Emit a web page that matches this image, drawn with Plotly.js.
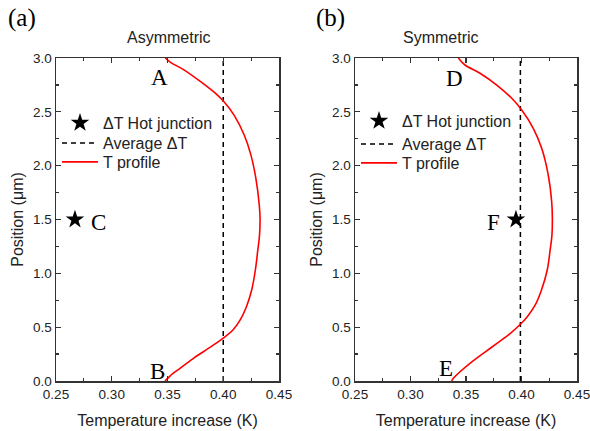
<!DOCTYPE html>
<html>
<head>
<meta charset="utf-8">
<script src="https://cdn.plot.ly/plotly-3.0.1.min.js"></script>
<style>html,body{margin:0;padding:0;background:#fff;}#chart{width:590px;height:431px;}</style>
</head>
<body>
<div id="chart"></div>
<script>
// Asymmetric (a) temperature profile
const posA  = [3.0, 2.96, 2.89, 2.78, 2.656, 2.594, 2.47, 2.285, 2.10, 1.88, 1.635, 1.51, 1.35, 1.217, 1.031, 0.845, 0.69, 0.567, 0.474, 0.406, 0.319, 0.211, 0.118, 0.046, 0.0];
const tempA = [0.348, 0.3527, 0.3647, 0.3797, 0.3948, 0.4007, 0.4097, 0.4188, 0.4248, 0.4293, 0.4323, 0.433, 0.4325, 0.431, 0.4288, 0.4255, 0.4208, 0.4152, 0.4087, 0.4010, 0.3890, 0.3733, 0.3612, 0.3522, 0.3478];
// Symmetric (b) temperature profile
const posB  = [3.0, 2.935, 2.858, 2.749, 2.626, 2.517, 2.347, 2.161, 1.913, 1.665, 1.51, 1.35, 1.217, 1.031, 0.845, 0.706, 0.597, 0.529, 0.443, 0.350, 0.257, 0.164, 0.086, 0.025, 0.0];
const tempB = [0.3431, 0.3491, 0.3626, 0.3777, 0.3912, 0.4002, 0.4106, 0.4182, 0.4241, 0.4272, 0.4278, 0.4274, 0.4258, 0.4232, 0.4180, 0.4124, 0.4052, 0.3992, 0.3900, 0.3779, 0.3656, 0.3536, 0.3446, 0.3386, 0.3371];
// Average ΔT
const avgA = 0.400;
const avgB = 0.399;
const avgPos = [0, 3];
// Hot junction points
const hotA = {t: 0.267, p: 1.5};
const hotB = {t: 0.395, p: 1.5};
// Point labels
const labelsA = [{t: 'A', x: 0.343, y: 2.82}, {t: 'B', x: 0.341, y: 0.085}, {t: 'C', x: 0.288, y: 1.47}];
const labelsB = [{t: 'D', x: 0.340, y: 2.81}, {t: 'E', x: 0.332, y: 0.12}, {t: 'F', x: 0.375, y: 1.47}];
const seriesNames = ['ΔT Hot junction', 'Average ΔT', 'T profile'];
const xTicks = [0.25, 0.30, 0.35, 0.40, 0.45];
const yTicks = [0.0, 0.5, 1.0, 1.5, 2.0, 2.5, 3.0];

const traces = [];
function addSet(xa, ya, legs, hot, avg, temps, pos) {
  traces.push({x: [hot.t], y: [hot.p], xaxis: xa, yaxis: ya, type: 'scatter', mode: 'markers',
    marker: {symbol: 'star', size: 14, color: '#000'}, name: seriesNames[0], legend: legs[0]});
  traces.push({x: [avg, avg], y: avgPos, xaxis: xa, yaxis: ya, type: 'scatter', mode: 'lines',
    line: {color: '#000', width: 1.5, dash: '5px,4px'}, name: seriesNames[1], legend: legs[1]});
  traces.push({x: temps, y: pos, xaxis: xa, yaxis: ya, type: 'scatter', mode: 'lines',
    line: {color: '#ff0000', width: 1.6, shape: 'spline', smoothing: 1}, name: seriesNames[2], legend: legs[2]});
}
addSet('x', 'y', ['legend', 'legend2', 'legend3'], hotA, avgA, tempA, posA);
addSet('x2', 'y2', ['legend4', 'legend5', 'legend6'], hotB, avgB, tempB, posB);

const fam = 'Liberation Sans, Arial, sans-serif';
const font = {family: fam, size: 13.5, color: '#222'};
function xax(domain, anchor) {
  return {domain: domain, anchor: anchor, range: [0.25, 0.45], tickvals: xTicks, tickformat: '.2f',
    ticks: 'inside', ticklen: 5, tickwidth: 1.2, tickcolor: '#333', showline: true, linecolor: '#333', linewidth: 1.5,
    mirror: 'allticks', showgrid: false, zeroline: false, ticklabeloverflow: 'allow',
    minor: {dtick: 0.025, tick0: 0.25, ticks: 'inside', ticklen: 3, tickcolor: '#333', showgrid: false},
    tickfont: {family: fam, size: 13.5, color: '#222'},
    title: {text: 'Temperature increase (K)', font: {family: fam, size: 16, color: '#222'}, standoff: 14}};
}
function yax(domain, anchor) {
  return {domain: domain, anchor: anchor, range: [0, 3], tickvals: yTicks, tickformat: '.1f',
    ticks: 'inside', ticklen: 5, tickwidth: 1.2, tickcolor: '#333', showline: true, linecolor: '#333', linewidth: 1.5,
    mirror: 'allticks', showgrid: false, zeroline: false, ticklabeloverflow: 'allow',
    minor: {dtick: 0.25, tick0: 0, ticks: 'inside', ticklen: 3, tickcolor: '#333', showgrid: false},
    tickfont: {family: fam, size: 13.5, color: '#222'},
    title: {text: 'Position (μm)', font: {family: fam, size: 16, color: '#222'}, standoff: 5}};
}

const serif = 'Liberation Serif, Times New Roman, serif';
const annotations = [];
labelsA.forEach(l => annotations.push({x: l.x, y: l.y, xref: 'x', yref: 'y', text: l.t, showarrow: false,
  xanchor: 'center', yanchor: 'middle', font: {family: serif, size: 23, color: '#000'}}));
labelsB.forEach(l => annotations.push({x: l.x, y: l.y, xref: 'x2', yref: 'y2', text: l.t, showarrow: false,
  xanchor: 'center', yanchor: 'middle', font: {family: serif, size: 23, color: '#000'}}));
const paperText = [
  {t: '(a)', px: 22, py: 18, f: {family: serif, size: 25, color: '#000'}},
  {t: '(b)', px: 330, py: 18, f: {family: serif, size: 25, color: '#000'}},
  {t: 'Asymmetric', px: 169, py: 37, f: {family: fam, size: 16, color: '#222'}},
  {t: 'Symmetric', px: 441, py: 37, f: {family: fam, size: 16, color: '#222'}}
];
paperText.forEach(p => annotations.push({x: p.px/590, y: 1 - p.py/431, xref: 'paper', yref: 'paper', text: p.t,
  showarrow: false, xanchor: 'center', yanchor: 'middle', font: p.f}));

const legFont = {family: fam, size: 16, color: '#222'};
function leg(px, pyTop) {
  return {x: px/590, y: 1 - pyTop/431, xanchor: 'left', yanchor: 'top', bgcolor: 'rgba(0,0,0,0)',
    font: legFont, tracegroupgap: 0, itemwidth: 36};
}
const layout = {
  width: 590, height: 431, margin: {l: 0, r: 0, t: 0, b: 0},
  paper_bgcolor: '#fff', plot_bgcolor: '#fff', font: font,
  xaxis: xax([56/590, 279/590], 'y'),
  yaxis: yax([50/431, 373/431], 'x'),
  xaxis2: xax([355/590, 577/590], 'y2'),
  yaxis2: yax([50/431, 373/431], 'x2'),
  legend: leg(57, 106), legend2: leg(57, 126), legend3: leg(57, 145),
  legend4: leg(356, 104), legend5: leg(356, 127), legend6: leg(356, 146),
  annotations: annotations,
  showlegend: true
};
Plotly.newPlot('chart', traces, layout, {displayModeBar: false, staticPlot: true});
</script>
</body>
</html>
